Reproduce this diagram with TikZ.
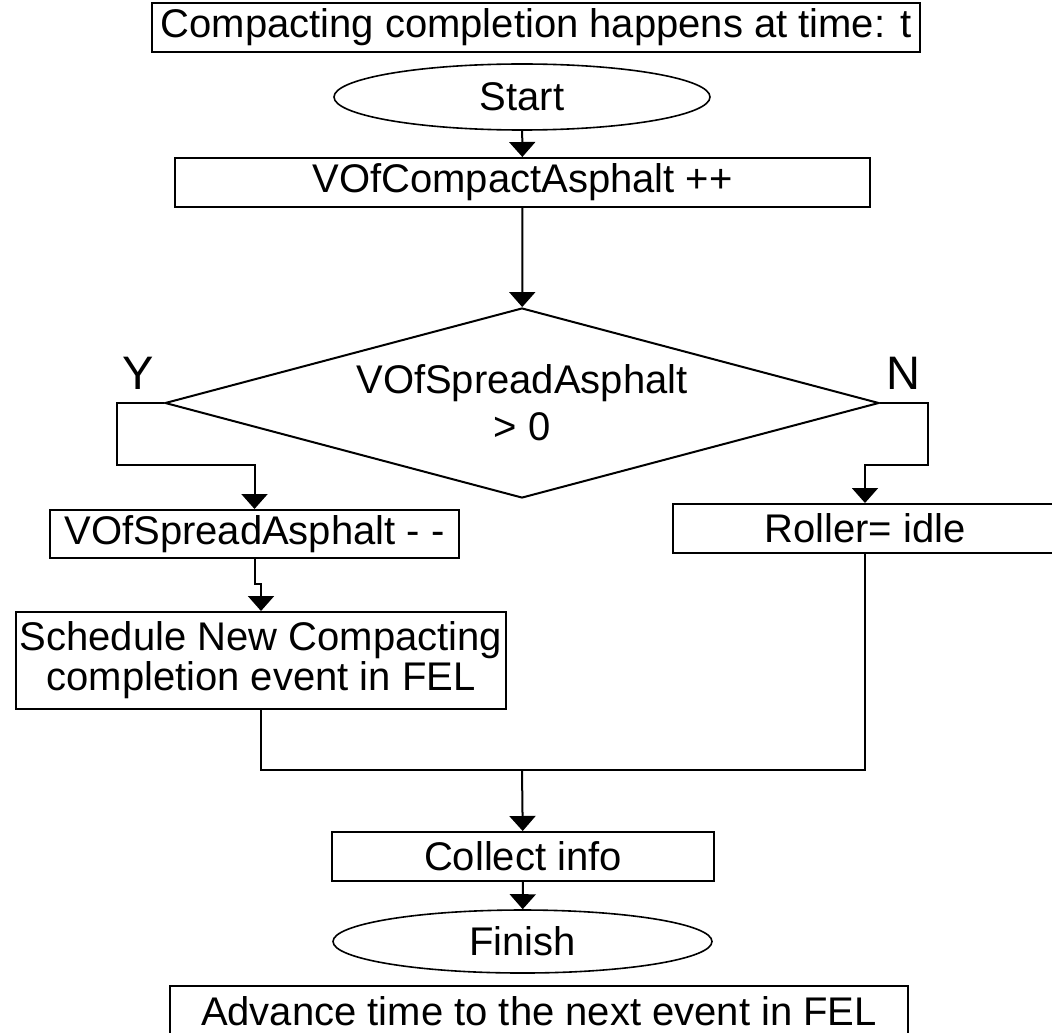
\documentclass[tikz,border=0pt]{standalone}
\usepackage{fontspec}
\setmainfont{Liberation Sans}
\usetikzlibrary{shapes.geometric, arrows.meta}

\begin{document}
\begin{tikzpicture}[
      x=0.5pt, y=-0.5pt,
      font=\fontsize{20}{20}\selectfont,
      box/.style={draw, line width=1pt, inner sep=0pt, minimum height=24.5pt, align=center},
      term/.style={draw, ellipse, line width=0.8pt, inner sep=0pt},
      test/.style={draw, diamond, line width=1pt, inner sep=0pt, aspect=3.76, align=center},
      branch/.style={font=\fontsize{23.5}{23.5}\selectfont},
      arrow/.style={-{Triangle[length=7.5pt, width=13pt]}, line width=1pt},
      link/.style={line width=1pt}
    ]
    \useasboundingbox (0,0) rectangle (1052,1032);

    \node[box, minimum width=384pt] (title) at (536,27.5) {Compacting completion happens at time: t};
    \node[term, minimum width=188pt, minimum height=33pt] (start) at (522,97) {Start};
    \node[box, minimum width=347.5pt] (compact) at (522.5,182.5) {VOfCompactAsphalt ++};
    \node[test, minimum width=357pt, minimum height=95pt, font=\fontsize{20}{23.5}\selectfont] (dec) at (522,403) {VOfSpreadAsphalt\\ > 0};
    \node[branch] (ylab) at (138,373) {Y};
    \node[branch] (nlab) at (903,373) {N};
    \node[box, minimum width=204.5pt, minimum height=24pt] (spread) at (254.5,534) {VOfSpreadAsphalt - -};
    \node[box, minimum width=192pt] (roller) at (865,528.5) {Roller= idle};
    \node[box, minimum width=245pt, minimum height=48.5pt] (sched) at (261,660.5) {Schedule New Compacting\\completion event in FEL};
    \node[box, minimum width=191pt] (collect) at (523,856.5) {Collect info};
    \node[term, minimum width=189.5pt, minimum height=31.5pt] (finish) at (522.5,941.5) {Finish};
    \node[box, minimum width=369pt, minimum height=25pt] (advance) at (539,1011) {Advance time to the next event in FEL};

    \coordinate (ybend) at (117,465);
    \coordinate (nbend) at (928,465);
    \coordinate (join) at (522,770);

    \draw[arrow] (start) -- (compact);
    \draw[arrow] (compact) -- (dec);
    \draw[arrow] (dec.west) -| (ybend) -| (spread.north);
    \draw[arrow] (dec.east) -| (nbend) -| (roller.north);
    \draw[arrow] (spread.south) -- ++(0,25) -| (sched.north);
    \draw[link] (sched.south) |- (join) -| (roller.south);
    \draw[arrow] (join) -- (collect);
    \draw[arrow] (collect) -- (finish);
  \end{tikzpicture}
\end{document}
